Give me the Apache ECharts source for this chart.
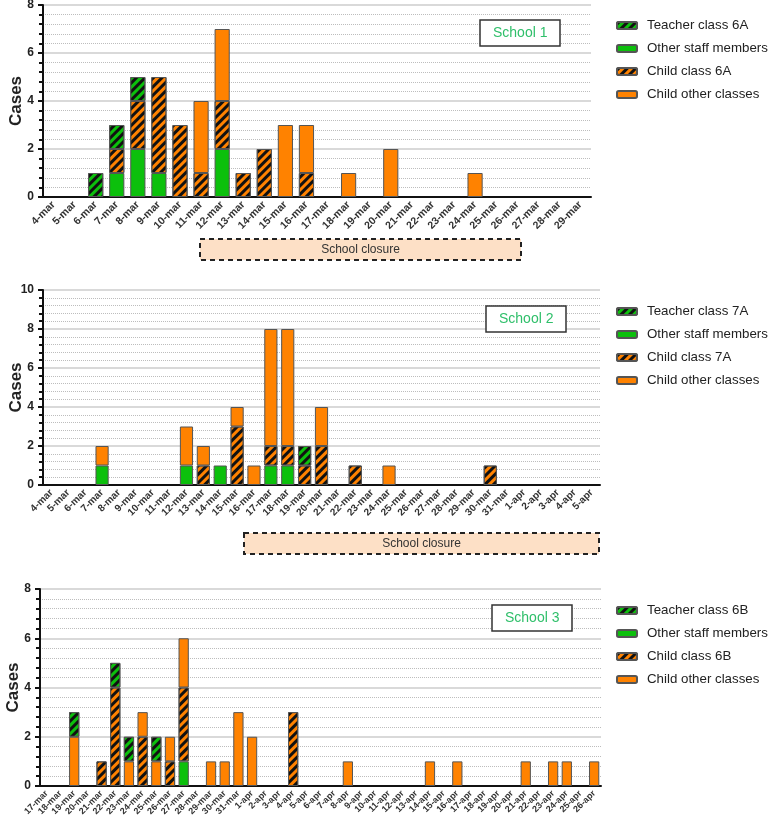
<!DOCTYPE html>
<html>
<head>
<meta charset="utf-8">
<script src="https://cdn.jsdelivr.net/npm/echarts@6/dist/echarts.min.js"></script>
<style>
html,body{margin:0;padding:0;background:#fff;}
#chart{width:784px;height:828px;}
</style>
</head>
<body>
<div id="chart"></div>
<script>
// ---------- School 1 ----------
const cats1 = ['4-mar','5-mar','6-mar','7-mar','8-mar','9-mar','10-mar','11-mar','12-mar','13-mar','14-mar','15-mar','16-mar','17-mar','18-mar','19-mar','20-mar','21-mar','22-mar','23-mar','24-mar','25-mar','26-mar','27-mar','28-mar','29-mar'];
const staff1   = [0,0,0,1,2,1,0,0,2,0,0,0,0,0,0,0,0,0,0,0,0,0,0,0,0,0];
const child1   = [0,0,0,1,2,4,3,1,2,1,2,0,1,0,0,0,0,0,0,0,0,0,0,0,0,0];
const other1   = [0,0,0,0,0,0,0,3,3,0,0,3,2,0,1,0,2,0,0,0,1,0,0,0,0,0];
const teacher1 = [0,0,1,1,1,0,0,0,0,0,0,0,0,0,0,0,0,0,0,0,0,0,0,0,0,0];

// ---------- School 2 ----------
const cats2 = ['4-mar','5-mar','6-mar','7-mar','8-mar','9-mar','10-mar','11-mar','12-mar','13-mar','14-mar','15-mar','16-mar','17-mar','18-mar','19-mar','20-mar','21-mar','22-mar','23-mar','24-mar','25-mar','26-mar','27-mar','28-mar','29-mar','30-mar','31-mar','1-apr','2-apr','3-apr','4-apr','5-apr'];
const staff2   = [0,0,0,1,0,0,0,0,1,0,1,0,0,1,1,0,0,0,0,0,0,0,0,0,0,0,0,0,0,0,0,0,0];
const child2   = [0,0,0,0,0,0,0,0,0,1,0,3,0,1,1,1,2,0,1,0,0,0,0,0,0,0,1,0,0,0,0,0,0];
const other2   = [0,0,0,1,0,0,0,0,2,1,0,1,1,6,6,0,2,0,0,0,1,0,0,0,0,0,0,0,0,0,0,0,0];
const teacher2 = [0,0,0,0,0,0,0,0,0,0,0,0,0,0,0,1,0,0,0,0,0,0,0,0,0,0,0,0,0,0,0,0,0];

// ---------- School 3 ----------
const cats3 = ['17-mar','18-mar','19-mar','20-mar','21-mar','22-mar','23-mar','24-mar','25-mar','26-mar','27-mar','28-mar','29-mar','30-mar','31-mar','1-apr','2-apr','3-apr','4-apr','5-apr','6-apr','7-apr','8-apr','9-apr','10-apr','11-apr','12-apr','13-apr','14-apr','15-apr','16-apr','17-apr','18-apr','19-apr','20-apr','21-apr','22-apr','23-apr','24-apr','25-apr','26-apr'];
const staff3   = [0,0,0,0,0,0,0,0,0,0,1,0,0,0,0,0,0,0,0,0,0,0,0,0,0,0,0,0,0,0,0,0,0,0,0,0,0,0,0,0,0];
const child3   = [0,0,0,0,1,4,0,2,0,1,3,0,0,0,0,0,0,0,3,0,0,0,0,0,0,0,0,0,0,0,0,0,0,0,0,0,0,0,0,0,0];
const other3   = [0,0,2,0,0,0,1,1,1,1,2,0,1,1,3,2,0,0,0,0,0,0,1,0,0,0,0,0,1,0,1,0,0,0,0,1,0,1,1,0,1];
const teacher3 = [0,0,1,0,0,1,1,0,1,0,0,0,0,0,0,0,0,0,0,0,0,0,0,0,0,0,0,0,0,0,0,0,0,0,0,0,0,0,0,0,0];

const schoolNames = ['School 1','School 2','School 3'];
const legendNames = [
  ['Teacher class 6A','Other staff members','Child class 6A','Child other classes'],
  ['Teacher class 7A','Other staff members','Child class 7A','Child other classes'],
  ['Teacher class 6B','Other staff members','Child class 6B','Child other classes']
];
const yMax = [8, 10, 8];

const ORANGE = '#ff8200';
const GREEN = '#0cc00c';
const hatch = {
  symbol: 'rect', symbolSize: 1, color: '#111',
  dashArrayX: [1, 0], dashArrayY: [2.5, 2.5], rotation: -Math.PI / 4
};
const nz = a => a.map(v => v === 0 ? '-' : v);

const grids = [
  {left: 43, top: 5, width: 548, height: 192, outerBoundsMode: 'none', containLabel: false},
  {left: 43, top: 290, width: 557, height: 195, outerBoundsMode: 'none', containLabel: false},
  {left: 40, top: 589, width: 561, height: 197, outerBoundsMode: 'none', containLabel: false}
];
const catsAll = [cats1, cats2, cats3];
const dataAll = [
  [staff1, child1, other1, teacher1],
  [staff2, child2, other2, teacher2],
  [staff3, child3, other3, teacher3]
];
const barW = ['72%', '78%', '75%'];
const xFont = [10.5, 10, 9];

const xAxis = [], yAxis = [], series = [], legend = [], title = [];
const legendTop = [14, 300, 599];
const titleBox = [[480, 20], [486, 306], [492, 605]];

for (let g = 0; g < 3; g++) {
  xAxis.push({
    type: 'category', gridIndex: g, data: catsAll[g],
    axisLine: {lineStyle: {color: '#111', width: 2}},
    axisTick: {alignWithLabel: true, length: 5, lineStyle: {width: 2, color: '#111'}},
    axisLabel: {rotate: 45, interval: 0, fontSize: xFont[g], fontWeight: 'bold', color: '#333', margin: 6, fontFamily: 'Liberation Sans'}
  });
  yAxis.push({
    type: 'value', gridIndex: g, min: 0, max: yMax[g], interval: 2,
    name: 'Cases', nameLocation: 'middle', nameGap: 18, nameMoveOverlap: false,
    nameTextStyle: {fontSize: 17, color: '#222', fontFamily: 'Liberation Sans', fontWeight: 'bold'},
    axisLine: {show: true, lineStyle: {color: '#111', width: 2}},
    axisTick: {show: true, length: 5, lineStyle: {width: 2, color: '#111'}},
    minorTick: {show: true, splitNumber: 5, length: 4, lineStyle: {width: 2, color: '#111'}},
    splitLine: {lineStyle: {color: '#d9d9d9', width: 2}},
    minorSplitLine: {show: true, lineStyle: {color: '#bdbdbd', width: 1, type: [1, 1]}},
    axisLabel: {fontSize: 12, fontWeight: 'bold', color: '#222', margin: 9, fontFamily: 'Liberation Sans'}
  });
  const names = legendNames[g];
  const d = dataAll[g];
  const common = {type: 'bar', xAxisIndex: g, yAxisIndex: g, stack: 's' + g, barWidth: barW[g]};
  const border = {borderColor: '#555', borderWidth: 1};
  series.push(Object.assign({}, common, {name: names[1], data: nz(d[0]), itemStyle: Object.assign({color: GREEN}, border)}));
  series.push(Object.assign({}, common, {name: names[2], data: nz(d[1]), itemStyle: Object.assign({color: ORANGE, decal: hatch}, border)}));
  series.push(Object.assign({}, common, {name: names[3], data: nz(d[2]), itemStyle: Object.assign({color: ORANGE}, border)}));
  series.push(Object.assign({}, common, {name: names[0], data: nz(d[3]), itemStyle: Object.assign({color: GREEN, decal: hatch}, border)}));
  legend.push({
    orient: 'vertical', left: 611, top: legendTop[g], data: names,
    itemWidth: 20, itemHeight: 7, itemGap: 10, selectedMode: false,
    textStyle: {fontSize: 13.3, color: '#222', fontFamily: 'Liberation Sans', padding: [0, 0, 0, 5]}
  });
  title.push({
    text: schoolNames[g], left: titleBox[g][0], top: titleBox[g][1],
    padding: [6, 13, 6, 13], borderColor: '#333', borderWidth: 1.5, backgroundColor: '#fff',
    textStyle: {fontSize: 14, fontWeight: 'normal', color: '#2fbf6a', fontFamily: 'Liberation Sans'}
  });
}

function closure(x, y, w, h) {
  return {
    type: 'group', left: x, top: y,
    children: [
      {type: 'rect', shape: {x: 0, y: 0, width: w, height: h},
       style: {fill: '#fde0c6', stroke: '#222', lineWidth: 2, lineDash: [5, 4]}},
      {type: 'text', x: w / 2, y: h / 2,
       style: {text: 'School closure', fontSize: 12, fill: '#333', align: 'center', verticalAlign: 'middle', fontFamily: 'Liberation Sans'}}
    ]
  };
}

const chart = echarts.init(document.getElementById('chart'));
chart.setOption({
  animation: false,
  backgroundColor: '#fff',
  grid: grids,
  xAxis: xAxis, yAxis: yAxis, series: series, legend: legend, title: title,
  graphic: [closure(199, 238, 321, 21), closure(243, 532, 355, 21)]
});
</script>
</body>
</html>
